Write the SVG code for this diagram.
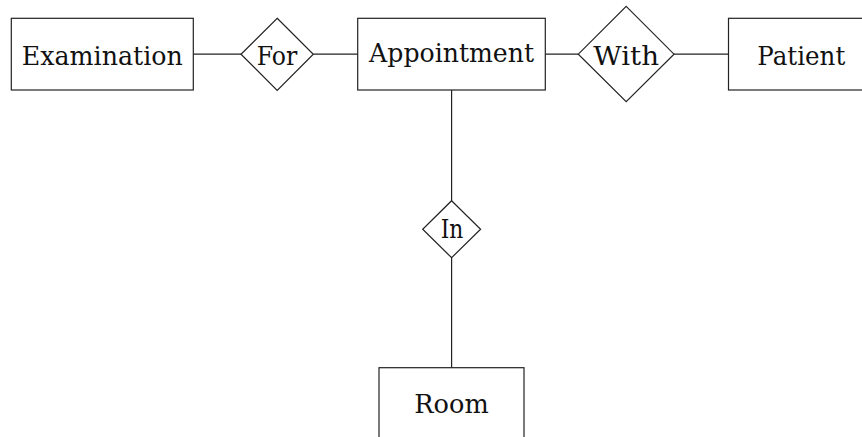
<svg xmlns="http://www.w3.org/2000/svg" width="862" height="437" viewBox="0 0 862 437">
  <style>
    .shape { fill: #ffffff; stroke: #222222; stroke-width: 1.2; }
    .edge { fill: none; stroke: #222222; stroke-width: 1.2; }
    .label { font-family: "DejaVu Serif", "Liberation Serif", serif; font-size: 26px; fill: #111111; text-anchor: middle; }
  </style>
  <rect width="862" height="437" fill="#ffffff"/>

  <!-- relationship lines -->
  <g id="connectors">
    <line class="edge" x1="193.3" y1="54.2" x2="241" y2="54.2"/>
    <line class="edge" x1="313.3" y1="54.2" x2="357.7" y2="54.2"/>
    <line class="edge" x1="545.3" y1="54.2" x2="578.3" y2="54.2"/>
    <line class="edge" x1="674" y1="54.2" x2="728.5" y2="54.2"/>
    <line class="edge" x1="451.6" y1="90" x2="451.6" y2="200.7"/>
    <line class="edge" x1="451.6" y1="257.7" x2="451.6" y2="367.7"/>
  </g>

  <!-- entities -->
  <g id="examination">
    <rect class="shape" x="11.3" y="18.3" width="182" height="71.7"/>
    <text class="label" x="102.3" y="64.5" textLength="161" lengthAdjust="spacingAndGlyphs">Examination</text>
  </g>
  <g id="appointment">
    <rect class="shape" x="357.7" y="18.3" width="187.6" height="71.7"/>
    <text class="label" x="451.6" y="61.5" textLength="165" lengthAdjust="spacingAndGlyphs">Appointment</text>
  </g>
  <g id="patient">
    <rect class="shape" x="728.5" y="18.3" width="143" height="71.7"/>
    <text class="label" x="801.3" y="64.5" textLength="88" lengthAdjust="spacingAndGlyphs">Patient</text>
  </g>
  <g id="room">
    <rect class="shape" x="379" y="367.7" width="145" height="72.5"/>
    <text class="label" x="451.5" y="413.3" textLength="74.4" lengthAdjust="spacingAndGlyphs">Room</text>
  </g>

  <!-- relationships -->
  <g id="for">
    <polygon class="shape" points="277.2,18.3 313.3,54.2 277.2,90.3 241,54.2"/>
    <text class="label" x="277" y="64.5" textLength="40.6" lengthAdjust="spacingAndGlyphs">For</text>
  </g>
  <g id="with">
    <polygon class="shape" points="626.2,6.3 674,54.2 626.2,101.7 578.3,54.2"/>
    <text class="label" x="626.2" y="64.5" textLength="65.7" lengthAdjust="spacingAndGlyphs">With</text>
  </g>
  <g id="in">
    <polygon class="shape" points="451.6,200.7 480.6,229.2 451.6,257.7 422.7,229.2"/>
    <text class="label" x="452" y="237.7" textLength="22.7" lengthAdjust="spacingAndGlyphs">In</text>
  </g>
</svg>
